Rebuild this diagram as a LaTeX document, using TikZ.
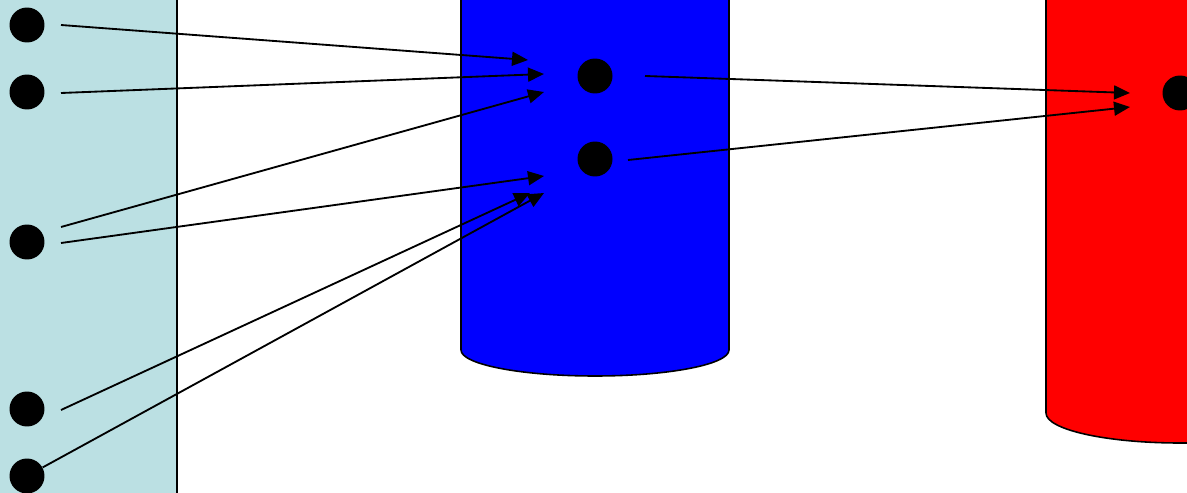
\documentclass[tikz,border=0pt]{standalone}
\usepackage{xcolor}
\usepackage{tikz}
\usetikzlibrary{positioning,arrows.meta}
\definecolor{panelcyan}{RGB}{187,224,227}
\tikzset{
  dot/.style={circle,fill=black,draw=none,minimum size=0.7cm,inner sep=0pt},
  panel/.style={fill=panelcyan,draw=none},
  tank/.style={draw=black,line width=0.9pt},
  feed/.style={-{Triangle[length=0.32cm,width=0.28cm]},line width=1.05pt,black},
}
\begin{document}
\begin{tikzpicture}[x=0.02cm,y=-0.02cm]
  \useasboundingbox (0,0) rectangle (1187,493);
  % left column
  \fill[panel] (0,-5) rectangle (177,498);
  \draw[line width=1pt] (177,-5) -- (177,498);
  % the two cylinders
  \draw[tank,fill=blue] (461,-5) -- (461,350)
    arc[start angle=180,end angle=0,x radius=134,y radius=26] -- (729,-5);
  \draw[tank,fill=red] (1046,-5) -- (1046,413)
    arc[start angle=180,end angle=90,x radius=134,y radius=30] -- (1195,443) -- (1195,-5);
  % dots
  \node[dot] (l1) at (27,25) {};
  \node[dot] (l2) at (27,92) {};
  \node[dot] (l3) at (27,242) {};
  \node[dot] (l4) at (27,409) {};
  \node[dot] (l5) at (27,476) {};
  \node[dot] (m1) at (595,76) {};
  \node[dot] (m2) at (595,159) {};
  \node[dot] (r1) at (1180,93) {};
  % arrow ends
  \coordinate (s1) at (61,25);
  \coordinate (s2) at (61,93);
  \coordinate (s3) at (61,227);
  \coordinate (s4) at (61,243);
  \coordinate (s5) at (61,410);
  \coordinate (t1) at (528,60);
  \coordinate (t2) at (544,74);
  \coordinate (t3) at (544,92);
  \coordinate (t4) at (544,176);
  \coordinate (t5) at (530,193);
  \coordinate (t6) at (544,193);
  \coordinate (s7) at (645,76);
  \coordinate (s8) at (628,160);
  \coordinate (t7) at (1130,93);
  \coordinate (t8) at (1130,107);
  \draw[feed] (s1) -- (t1);
  \draw[feed] (s2) -- (t2);
  \draw[feed] (s3) -- (t3);
  \draw[feed] (s4) -- (t4);
  \draw[feed] (s5) -- (t5);
  \draw[feed] (l5) -- (t6);
  \draw[feed] (s7) -- (t7);
  \draw[feed] (s8) -- (t8);
\end{tikzpicture}
\end{document}
